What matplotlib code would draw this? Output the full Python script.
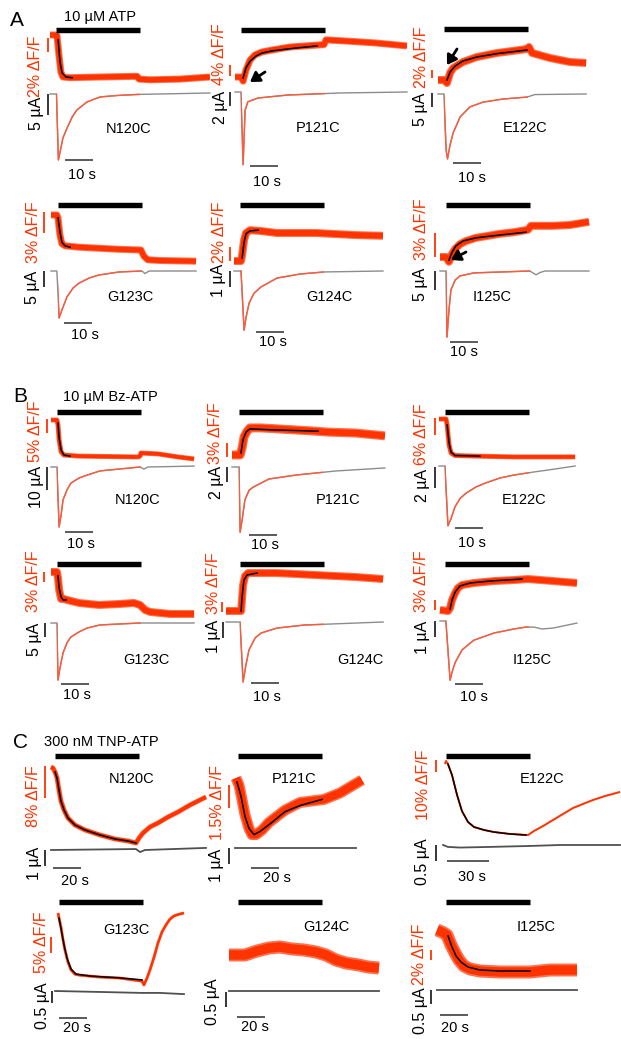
import matplotlib
matplotlib.use("Agg")
import matplotlib.pyplot as plt
from matplotlib.patches import Rectangle

plt.rcParams['font.family'] = ['Liberation Sans', 'DejaVu Sans']

W, H = 621, 1039
RED = '#ff3300'
CUR_RED = '#ff5a3a'
GRAY = '#8c8c8c'

# ======================= DATA (time in s, fluorescence in %dF/F, current in uA) =======================
# ---- A: 10 uM ATP ----
A1_name = "N120C"; A1_drug = [2.1, 32.1]; A1_scale = [2, 5, 10]
A1_F_t = [0, 2.1, 2.5, 3.2, 3.9, 4.6, 7.1, 17.9, 31.1, 31.8, 35.7, 46.4, 57.1]
A1_F_v = [0, 0, -0.1, -2.9, -5.3, -6.0, -6.1, -6.0, -5.9, -6.3, -6.4, -6.3, -6.0]
A1_fit_t = [2.9, 3.6, 4.3, 5.7, 7.9]
A1_fit_v = [-0.7, -3.9, -5.4, -6.0, -6.1]
A1_I_t = [0, 2.3, 3.0, 3.6, 4.6, 6.1, 7.9, 9.6, 13.2, 17.9, 23.9, 31.4, 57.1]
A1_I_v = [0, 0, -15.7, -13.8, -10.5, -8.1, -5.5, -3.8, -1.9, -0.7, -0.36, -0.1, 0.24]

A2_name = "P121C"; A2_drug = [2.1, 32.1]; A2_scale = [4, 2, 10]
A2_F_t = [0, 2.1, 2.9, 3.9, 5.4, 7.1, 9.6, 13.2, 19.6, 29.3, 31.8, 32.5, 39.3, 50.0, 61.4]
A2_F_v = [0, 0, -1.5, 2.5, 6.2, 8.0, 9.1, 9.8, 10.9, 11.6, 11.8, 13.5, 13.1, 12.4, 11.3]
A2_fit_t = [2.9, 3.9, 5.4, 7.5, 9.6, 13.2, 21.4, 29.3]
A2_fit_v = [-0.4, 3.3, 5.8, 7.6, 8.7, 9.5, 10.5, 11.3]
A2_I_t = [0, 2.1, 2.9, 3.6, 4.6, 8.2, 18.9, 37.5, 61.4]
A2_I_v = [0, 0, -10.4, -2.6, -1.4, -0.86, -0.43, -0.14, 0]

A3_name = "E122C"; A3_drug = [2.1, 32.1]; A3_scale = [2, 5, 10]
A3_F_t = [0, 2.1, 3.2, 4.3, 5.4, 8.9, 13.9, 21.1, 31.8, 32.5, 33.6, 40.0, 47.1, 52.9]
A3_F_v = [0, 0, -0.75, 1.75, 3.0, 4.5, 5.75, 6.75, 7.75, 8.25, 6.75, 5.5, 4.5, 4.25]
A3_fit_t = [3.2, 4.3, 6.1, 8.9, 13.9, 21.1, 31.8]
A3_fit_v = [0, 2.0, 3.5, 4.75, 5.75, 6.6, 7.5]
A3_I_t = [0, 2.1, 2.9, 3.4, 4.3, 5.4, 7.9, 11.4, 16.1, 23.2, 31.8, 34.6, 52.9]
A3_I_v = [0, 0, -20.0, -23.2, -18.2, -13.9, -8.2, -4.6, -2.9, -1.8, -1.1, -0.2, 0]

A4_name = "G123C"; A4_drug = [2.5, 32.5]; A4_scale = [3, 5, 10]
A4_F_t = [0, 2.1, 2.5, 3.2, 3.9, 5.0, 10.0, 24.3, 32.1, 33.2, 34.6, 38.9, 51.8]
A4_F_v = [0, 0, -0.4, -2.9, -4.1, -4.4, -4.6, -4.9, -5.0, -5.9, -6.4, -6.5, -6.6]
A4_fit_t = [2.5, 3.2, 3.9, 5.0, 6.8]
A4_fit_v = [-0.4, -2.4, -3.9, -4.4, -4.6]
A4_I_t = [0, 2.1, 2.9, 3.9, 5.7, 7.9, 10.0, 13.6, 17.1, 24.3, 32.5, 33.6, 35.0, 51.8]
A4_I_v = [0, 0, -14.7, -12.2, -8.1, -5.3, -3.8, -2.2, -1.25, -0.3, 0, -0.8, 0, 0]

A5_name = "G124C"; A5_drug = [2.1, 32.1]; A5_scale = [2, 1, 10]
A5_F_t = [0, 2.5, 2.9, 3.6, 4.3, 5.7, 9.3, 15.4, 29.3, 43.6, 53.2]
A5_F_v = [0, 0, 0.86, 3.0, 4.0, 4.4, 4.3, 4.0, 4.0, 3.7, 3.6]
A5_fit_t = [2.9, 3.6, 4.3, 5.7, 8.6]
A5_fit_v = [0.43, 2.7, 3.9, 4.3, 4.4]
A5_I_t = [0, 2.5, 3.6, 4.3, 5.4, 7.1, 9.6, 15.4, 23.6, 32.1, 53.2]
A5_I_v = [0, 0, -3.7, -2.9, -2.0, -1.4, -1.0, -0.44, -0.19, -0.06, 0]

A6_name = "I125C"; A6_drug = [2.1, 32.1]; A6_scale = [3, 5, 10]
A6_F_t = [0, 2.1, 3.2, 4.3, 5.4, 7.1, 9.3, 12.9, 16.4, 21.4, 26.4, 31.4, 32.5, 40.4, 46.4, 53.2]
A6_F_v = [0, 0, -0.6, 0.4, 1.0, 1.6, 2.0, 2.4, 2.6, 2.9, 3.1, 3.4, 3.9, 3.9, 4.0, 4.4]
A6_fit_t = [3.2, 4.3, 5.7, 8.2, 12.9, 21.4, 30.7]
A6_fit_v = [-0.4, 0.6, 1.4, 2.0, 2.4, 2.75, 3.1]
A6_I_t = [0, 2.1, 2.5, 3.2, 3.9, 5.4, 7.1, 12.1, 32.1, 33.2, 34.3, 35.7, 37.5, 53.2]
A6_I_v = [0, 0, -17.4, -10.3, -5.0, -2.4, -1.3, -0.5, 0, -0.5, -1.0, -0.4, 0, 0]

# ---- B: 10 uM Bz-ATP ----
B1_name = "N120C"; B1_drug = [2.1, 32.1]; B1_scale = [5, 10, 10]
B1_F_t = [0, 2.1, 2.5, 2.9, 3.6, 4.6, 10.0, 31.1, 31.8, 32.1, 38.2, 45.4, 51.1]
B1_F_v = [0, 0, -1.8, -7.1, -11.4, -12.5, -12.9, -13.2, -12.9, -11.8, -12.1, -13.2, -13.9]
B1_fit_t = [2.5, 2.9, 3.6, 4.6, 6.8]
B1_fit_v = [-1.1, -6.4, -10.7, -12.5, -12.9]
B1_I_t = [0, 2.1, 2.9, 3.6, 4.3, 5.7, 7.1, 10.0, 12.9, 17.5, 24.3, 31.8, 33.2, 34.6, 51.1]
B1_I_v = [0, 0, -26.1, -20.9, -14.3, -10.0, -7.0, -4.8, -3.5, -1.7, -0.9, 0, -0.9, 0, 0.4]

B2_name = "P121C"; B2_drug = [2.5, 32.5]; B2_scale = [3, 2, 10]
B2_F_t = [0, 2.9, 3.6, 4.3, 5.4, 6.4, 10.4, 16.1, 30.0, 34.3, 44.3, 54.6]
B2_F_v = [0, 0, 1.5, 3.9, 5.1, 5.8, 5.8, 5.6, 5.1, 4.9, 4.7, 4.1]
B2_fit_t = [3.2, 3.9, 5.0, 6.4, 13.6, 30.7]
B2_fit_v = [0.43, 3.2, 4.9, 5.6, 5.4, 5.1]
B2_I_t = [0, 2.5, 2.9, 3.6, 4.6, 6.1, 7.5, 13.2, 22.9, 37.1, 54.6]
B2_I_v = [0, 0, -8.7, -7.1, -4.4, -3.1, -2.7, -1.6, -1.07, -0.53, -0.13]

B3_name = "E122C"; B3_drug = [2.1, 32.1]; B3_scale = [6, 2, 10]
B3_F_t = [0, 2.5, 2.9, 3.6, 4.3, 5.7, 12.5, 26.8, 37.9, 48.6]
B3_F_v = [0, 0, -2.1, -9.2, -12.0, -12.9, -13.1, -13.4, -13.4, -13.4]
B3_fit_t = [2.9, 3.6, 4.3, 5.7, 14.6]
B3_fit_v = [-2.1, -8.5, -11.7, -12.9, -13.1]
B3_I_t = [0, 2.1, 3.2, 4.3, 5.7, 7.5, 9.6, 13.2, 16.8, 21.8, 26.8, 33.9, 41.4, 48.6]
B3_I_v = [0, 0, -5.7, -5.0, -3.9, -3.1, -2.6, -2.0, -1.6, -1.14, -0.86, -0.57, -0.29, 0]

B4_name = "G123C"; B4_drug = [2.1, 32.1]; B4_scale = [3, 5, 10]
B4_F_t = [0, 2.1, 2.5, 2.9, 3.6, 4.6, 5.7, 10.0, 17.1, 24.6, 29.6, 31.8, 33.6, 35.4, 42.5, 51.1]
B4_F_v = [0, 0, -1.8, -5.4, -8.1, -8.1, -8.4, -9.3, -9.9, -9.6, -9.3, -9.9, -11.4, -12.0, -12.6, -12.6]
B4_fit_t = [2.5, 2.9, 3.6, 4.3, 5.4]
B4_fit_v = [-1.2, -4.8, -7.5, -8.4, -8.4]
B4_I_t = [0, 2.1, 2.5, 3.2, 4.3, 5.7, 7.1, 10.0, 12.9, 17.5, 24.3, 31.8, 51.1]
B4_I_v = [0, 0, -20.4, -16.1, -10.7, -7.1, -5.0, -3.2, -1.8, -0.7, -0.36, 0, 0]

B5_name = "G124C"; B5_drug = [5.0, 35.0]; B5_scale = [3, 1, 10]
B5_F_t = [0, 5.4, 5.7, 6.1, 6.8, 7.9, 18.2, 32.1, 46.4, 56.1]
B5_F_v = [0, 0, 3.3, 7.8, 10.5, 11.4, 11.4, 10.8, 10.2, 9.6]
B5_fit_t = [5.4, 5.7, 6.4, 7.5, 11.1]
B5_fit_v = [0, 3.9, 9.3, 10.8, 11.4]
B5_I_t = [0, 5.0, 6.1, 7.1, 8.2, 10.4, 12.5, 18.2, 27.9, 56.1]
B5_I_v = [0, 0, -3.75, -2.7, -1.75, -1.0, -0.69, -0.38, -0.19, 0]

B6_name = "I125C"; B6_drug = [1.8, 31.8]; B6_scale = [3, 1, 10]
B6_F_t = [0, 2.9, 3.6, 4.3, 5.4, 6.4, 7.9, 12.1, 19.3, 26.4, 31.4, 40.4, 48.9]
B6_F_v = [0, -0.3, 0.6, 3.0, 5.1, 6.6, 7.5, 8.1, 8.7, 9.0, 9.3, 8.7, 8.1]
B6_fit_t = [3.6, 4.3, 5.4, 7.1, 10.7, 17.9, 29.3]
B6_fit_v = [0.3, 3.0, 5.4, 7.2, 8.1, 8.7, 9.3]
B6_I_t = [0, 2.1, 3.6, 4.3, 5.4, 7.9, 12.1, 19.3, 26.4, 30.7, 33.6, 36.4, 40.4, 48.9]
B6_I_v = [0, 0, -3.7, -3.2, -2.6, -1.8, -1.2, -0.75, -0.5, -0.38, -0.38, -0.5, -0.44, -0.13]

# ---- C: 300 nM TNP-ATP ----
C1_name = "N120C"; C1_drug = [2.9, 62.9]; C1_scale = [8, 1, 20]
C1_F_t = [0, 1.4, 2.9, 4.3, 5.7, 7.1, 9.3, 12.1, 17.1, 24.3, 35.0, 45.7, 55.0, 60.7, 62.9, 65.7, 70.7, 76.4, 83.6, 90.7, 99.3, 110.7]
C1_F_v = [0, -0.25, -1.25, -2.75, -5.75, -8.5, -10.75, -12.75, -14.5, -15.75, -17.0, -18.0, -18.5, -19.0, -17.75, -16.5, -15.0, -14.0, -12.5, -11.25, -9.5, -7.5]
C1_fit_t = [2.9, 4.3, 5.7, 7.1, 9.3, 12.1, 17.1, 24.3, 35.0, 45.7, 55.0, 60.7]
C1_fit_v = [-1.25, -2.75, -5.75, -8.5, -10.75, -12.75, -14.5, -15.75, -17.0, -18.0, -18.5, -19.0]
C1_I_t = [0, 60.7, 63.6, 67.1, 110.7]
C1_I_v = [0, 0.06, -0.13, 0, 0.13]

C2_name = "P121C"; C2_drug = [1.4, 61.4]; C2_scale = [1.5, 1, 20]
C2_F_t = [0, 2.1, 3.6, 6.4, 9.3, 11.4, 14.3, 18.6, 23.6, 29.3, 35.0, 45.7, 62.9, 74.3, 81.4, 90.0]
C2_F_v = [0, -0.46, -1.1, -2.4, -3.3, -3.7, -3.7, -3.4, -2.9, -2.5, -2.1, -1.6, -1.4, -0.98, -0.59, -0.13]
C2_fit_t = [0.7, 3.6, 6.4, 9.3, 12.9, 17.1, 24.3, 35.0, 45.7, 61.4]
C2_fit_v = [-0.26, -1.2, -2.5, -3.3, -3.7, -3.5, -3.0, -2.2, -1.8, -1.4]
C2_I_t = [-0.7, 85.7]
C2_I_v = [0, 0]

C3_name = "E122C"; C3_drug = [0.7, 60.7]; C3_scale = [10, 0.5, 30]
C3_F_t = [0, 0.7, 2.1, 5.0, 8.6, 12.1, 16.4, 20.7, 27.9, 35.0, 46.4, 59.3, 63.6, 70.0, 77.1, 84.3, 91.4, 98.6, 105.7, 114.3, 125.0]
C3_F_v = [0, 2.5, 0, -9.2, -25.8, -39.2, -48.3, -52.5, -55.0, -56.7, -58.3, -59.2, -55.8, -51.7, -46.7, -41.7, -36.7, -33.3, -30.0, -26.7, -23.3]
C3_fit_t = [2.1, 5.0, 8.6, 12.1, 16.4, 20.7, 27.9, 35.0, 46.4, 57.9]
C3_fit_v = [0, -9.2, -25.8, -39.2, -48.3, -52.5, -55.0, -56.7, -58.3, -59.2]
C3_I_t = [-1.4, 2.1, 10.7, 32.1, 60.7, 82.1, 125.0]
C3_I_v = [0, -0.06, -0.08, -0.06, -0.03, 0, 0]

C4_name = "G123C"; C4_drug = [0.7, 60.7]; C4_scale = [5, 0.5, 20]
C4_F_t = [0, 2.1, 3.6, 5.0, 7.1, 9.3, 12.1, 15.0, 29.3, 43.6, 60.0, 61.4, 63.6, 65.7, 68.6, 71.4, 74.3, 77.1, 80.0, 82.9, 87.1, 90.0]
C4_F_v = [0, -4.4, -8.4, -11.6, -15.3, -17.8, -19.1, -19.4, -20.0, -20.3, -21.3, -22.5, -20.3, -17.8, -13.8, -9.4, -5.9, -3.75, -1.9, -0.9, -0.3, 0]
C4_fit_t = [0.7, 2.1, 4.3, 6.4, 9.3, 12.9, 22.9, 44.3, 60.0]
C4_fit_v = [-1.6, -4.7, -10.0, -14.1, -17.5, -19.1, -19.7, -20.3, -20.9]
C4_I_t = [-2.1, 30.0, 60.0, 72.9, 90.0]
C4_I_v = [0, -0.04, -0.08, -0.08, -0.13]

C5_name = "G124C"; C5_drug = [6.4, 66.4]; C5_scale = [None, 0.5, 20]
C5_F_t = [0, 11.4, 20.0, 28.6, 36.4, 45.0, 53.6, 62.1, 69.3, 76.4, 83.6, 92.7, 99.3, 107.1]
C5_F_v = [0, 0, 0.8, 1.4, 1.6, 1.2, 1.0, 0.6, 0, -1.0, -1.6, -2.0, -2.4, -2.6]
C5_fit_t = []
C5_fit_v = []
C5_I_t = [0, 107.1]
C5_I_v = [0, 0]

C6_name = "I125C"; C6_drug = [6.4, 66.4]; C6_scale = [2, 0.5, 20]
C6_F_t = [0, 3.6, 7.1, 10.0, 12.9, 15.7, 19.3, 23.6, 30.7, 45.0, 66.4, 80.7, 100.0]
C6_F_v = [0, -0.4, -1.0, -3.0, -4.6, -6.0, -7.2, -7.8, -8.2, -8.4, -8.4, -8.0, -8.0]
C6_fit_t = [7.9, 10.7, 13.6, 17.1, 22.1, 30.7, 45.0, 66.4]
C6_fit_v = [-1.2, -3.4, -5.2, -6.4, -7.4, -8.0, -8.2, -8.2]
C6_I_t = [0, 100.0]
C6_I_v = [0, 0]

SECTION_LETTERS = ["A", "B", "C"]
SECTION_DRUGS = ["10 µM ATP", "10 µM Bz-ATP", "300 nM TNP-ATP"]

# ======================= LAYOUT (pixel placement of each panel) =======================
def P(name, drug, scale, Ft, Fv, fit_t, fit_v, It, Iv):
    return dict(name=name, drug=drug, scale=scale, Ft=Ft, Fv=Fv, fit_t=fit_t, fit_v=fit_v, It=It, Iv=Iv)

panels = [
    (P(A1_name, A1_drug, A1_scale, A1_F_t, A1_F_v, A1_fit_t, A1_fit_v, A1_I_t, A1_I_v),
     dict(xs=50, pps=2.8, yF0=35, ppF=7, yI0=94, ppI=4.2, bar_y=29.5, Fsb=(48, 52), Isb=(48, 94), tb=(65, 160),
          band=7, Flab=(36, 66), Ilab=(36, 113), tlab=(82, 175), nlab=(129, 129), redI=True)),
    (P(A2_name, A2_drug, A2_scale, A2_F_t, A2_F_v, A2_fit_t, A2_fit_v, A2_I_t, A2_I_v),
     dict(xs=235, pps=2.8, yF0=77, ppF=2.75, yI0=92, ppI=7, bar_y=29.5, Fsb=(230, 76), Isb=(230, 92), tb=(250, 166),
          band=7, Flab=(220, 54), Ilab=(220, 107), tlab=(267, 182), nlab=(318, 128), redI=True,
          arrow=((265, 72), (250, 82)))),
    (P(A3_name, A3_drug, A3_scale, A3_F_t, A3_F_v, A3_fit_t, A3_fit_v, A3_I_t, A3_I_v),
     dict(xs=438, pps=2.8, yF0=80, ppF=4, yI0=94, ppI=2.8, bar_y=29.5, Fsb=(432, 78), Isb=(432, 93), tb=(453, 163),
          band=8, Flab=(421, 57), Ilab=(421, 109), tlab=(472, 178), nlab=(525, 128), redI=True,
          arrow=((457, 49), (447, 65)))),
    (P(A4_name, A4_drug, A4_scale, A4_F_t, A4_F_v, A4_fit_t, A4_fit_v, A4_I_t, A4_I_v),
     dict(xs=51, pps=2.8, yF0=215, ppF=7, yI0=271, ppI=3.2, bar_y=204.5, Fsb=(44, 233), Isb=(44, 271), tb=(64, 323),
          band=7, Flab=(33, 232), Ilab=(33, 287), tlab=(85, 335), nlab=(130, 297), redI=True)),
    (P(A5_name, A5_drug, A5_scale, A5_F_t, A5_F_v, A5_fit_t, A5_fit_v, A5_I_t, A5_I_v),
     dict(xs=234, pps=2.8, yF0=261, ppF=7, yI0=271, ppI=16, bar_y=204.5, Fsb=(230, 261), Isb=(230, 271), tb=(256, 332),
          band=8, Flab=(220, 232), Ilab=(219, 280), tlab=(273, 342), nlab=(329, 297), redI=True)),
    (P(A6_name, A6_drug, A6_scale, A6_F_t, A6_F_v, A6_fit_t, A6_fit_v, A6_I_t, A6_I_v),
     dict(xs=440, pps=2.8, yF0=257, ppF=8, yI0=271, ppI=3.8, bar_y=204.5, Fsb=(435, 257), Isb=(435, 271), tb=(450, 342),
          band=8, Flab=(421, 229), Ilab=(421, 284), tlab=(464, 352), nlab=(492, 297), redI=True,
          arrow=((466, 252), (451, 260)))),
    (P(B1_name, B1_drug, B1_scale, B1_F_t, B1_F_v, B1_fit_t, B1_fit_v, B1_I_t, B1_I_v),
     dict(xs=51, pps=2.8, yF0=420, ppF=2.8, yI0=467, ppI=2.3, bar_y=411.5, Fsb=(47, 433), Isb=(47, 467), tb=(65, 532),
          band=5, Flab=(36, 431), Ilab=(36, 487), tlab=(81, 544), nlab=(138, 500), redI=True)),
    (P(B2_name, B2_drug, B2_scale, B2_F_t, B2_F_v, B2_fit_t, B2_fit_v, B2_I_t, B2_I_v),
     dict(xs=232, pps=2.8, yF0=455, ppF=4.67, yI0=467, ppI=7.5, bar_y=411.5, Fsb=(227, 457), Isb=(227, 467), tb=(249, 535),
          band=9, Flab=(216, 433), Ilab=(216, 482), tlab=(265, 545), nlab=(338, 500), redI=True)),
    (P(B3_name, B3_drug, B3_scale, B3_F_t, B3_F_v, B3_fit_t, B3_fit_v, B3_I_t, B3_I_v),
     dict(xs=439, pps=2.8, yF0=419, ppF=2.83, yI0=466, ppI=10.5, bar_y=411.5, Fsb=(435, 435), Isb=(435, 467), tb=(455, 528),
          band=5, Flab=(422, 434), Ilab=(422, 485), tlab=(472, 543), nlab=(524, 500), redI=True)),
    (P(B4_name, B4_drug, B4_scale, B4_F_t, B4_F_v, B4_fit_t, B4_fit_v, B4_I_t, B4_I_v),
     dict(xs=51, pps=2.8, yF0=572, ppF=3.33, yI0=623, ppI=2.8, bar_y=563.5, Fsb=(44, 582), Isb=(45, 623), tb=(61, 684),
          band=8, Flab=(34, 581), Ilab=(34, 639), tlab=(77, 695), nlab=(146, 660), redI=True)),
    (P(B5_name, B5_drug, B5_scale, B5_F_t, B5_F_v, B5_fit_t, B5_fit_v, B5_I_t, B5_I_v),
     dict(xs=226, pps=2.8, yF0=611, ppF=3.33, yI0=622, ppI=16, bar_y=563.5, Fsb=(222, 612), Isb=(223, 622), tb=(251, 683),
          band=8, Flab=(214, 583), Ilab=(214, 636), tlab=(267, 697), nlab=(360, 660), redI=True)),
    (P(B6_name, B6_drug, B6_scale, B6_F_t, B6_F_v, B6_fit_t, B6_fit_v, B6_I_t, B6_I_v),
     dict(xs=440, pps=2.8, yF0=610, ppF=3.33, yI0=621, ppI=16, bar_y=563.5, Fsb=(435, 610), Isb=(435, 621), tb=(455, 684),
          band=8, Flab=(422, 581), Ilab=(422, 637), tlab=(474, 697), nlab=(532, 660), redI=True)),
    (P(C1_name, C1_drug, C1_scale, C1_F_t, C1_F_v, C1_fit_t, C1_fit_v, C1_I_t, C1_I_v),
     dict(xs=51, pps=1.4, yF0=767, ppF=4, yI0=850, ppI=16, bar_y=755.5, Fsb=(45, 798), Isb=(45, 850), tb=(53, 868),
          band=5, Flab=(34, 796), Ilab=(35, 863), tlab=(75, 881), nlab=(132, 779), redI=False)),
    (P(C2_name, C2_drug, C2_scale, C2_F_t, C2_F_v, C2_fit_t, C2_fit_v, C2_I_t, C2_I_v),
     dict(xs=236, pps=1.4, yF0=778, ppF=15.3, yI0=848, ppI=16, bar_y=755.5, Fsb=(229, 808), Isb=(229, 848), tb=(251, 868),
          band=11, Flab=(217, 803), Ilab=(217, 865), tlab=(277, 878), nlab=(294, 779), redI=False)),
    (P(C3_name, C3_drug, C3_scale, C3_F_t, C3_F_v, C3_fit_t, C3_fit_v, C3_I_t, C3_I_v),
     dict(xs=445, pps=1.4, yF0=764, ppF=1.2, yI0=845, ppI=32, bar_y=755.5, Fsb=(436, 772), Isb=(436, 845), tb=(447, 861),
          band=2, Flab=(423, 785), Ilab=(422, 862), tlab=(472, 877), nlab=(542, 779), redI=False)),
    (P(C4_name, C4_drug, C4_scale, C4_F_t, C4_F_v, C4_fit_t, C4_fit_v, C4_I_t, C4_I_v),
     dict(xs=58, pps=1.4, yF0=913, ppF=3.2, yI0=991, ppI=24, bar_y=901.5, Fsb=(51, 953), Isb=(52, 991), tb=(59, 1018),
          band=3, Flab=(42, 942), Ilab=(42, 1006), tlab=(77, 1028), nlab=(126, 930), redI=False)),
    (P(C5_name, C5_drug, C5_scale, C5_F_t, C5_F_v, C5_fit_t, C5_fit_v, C5_I_t, C5_I_v),
     dict(xs=229, pps=1.4, yF0=955, ppF=5, yI0=991, ppI=30, bar_y=901.5, Fsb=None, Isb=(226, 992), tb=(237, 1017),
          band=13, Flab=None, Ilab=(212, 1002), tlab=(255, 1027), nlab=(326, 927), redI=False)),
    (P(C6_name, C6_drug, C6_scale, C6_F_t, C6_F_v, C6_fit_t, C6_fit_v, C6_I_t, C6_I_v),
     dict(xs=437, pps=1.4, yF0=930, ppF=5, yI0=990, ppI=28, bar_y=901.5, Fsb=(431, 960), Isb=(431, 990), tb=(440, 1015),
          band=13, Flab=(420, 954), Ilab=(420, 1011), tlab=(455, 1028), nlab=(536, 927), redI=False)),
]

LETTER_POS = [(17, 20), (20, 397), (20, 743)]
DRUG_POS = [(100, 17), (110, 397), (101, 742)]

FS = 10.5
FS_ROT = 11.5

fig = plt.figure(figsize=(W / 100, H / 100), dpi=100)


def data_axes(xs, pps, y0, ppy):
    ax = fig.add_axes([0, 0, 1, 1])
    ax.set_xlim(-xs / pps, (W - xs) / pps)
    ax.set_ylim((y0 - H) / ppy, y0 / ppy)
    ax.set_axis_off()
    ax.patch.set_alpha(0)
    return ax


def ftxt(x, y, s, **kw):
    fig.text(x / W, 1 - y / H, s, ha='center', va='center', **kw)


def fmt(v):
    return f"{v:g}"


def draw(p, L):
    xs, pps = L['xs'], L['pps']
    tx = lambda px: (px - xs) / pps
    fv = lambda py: (L['yF0'] - py) / L['ppF']
    iv = lambda py: (L['yI0'] - py) / L['ppI']
    axF = data_axes(xs, pps, L['yF0'], L['ppF'])
    axI = data_axes(xs, pps, L['yI0'], L['ppI'])

    band = L['band']
    # fluorescence: noisy band (soft edge + solid core)
    axF.plot(p['Ft'], p['Fv'], color=RED, lw=band / 1.39, alpha=0.7,
             solid_joinstyle='round', solid_capstyle='butt')
    axF.plot(p['Ft'], p['Fv'], color=RED, lw=max(band * 0.72, 1.6) / 1.39,
             solid_joinstyle='round', solid_capstyle='butt')
    if p['fit_t']:
        axF.plot(p['fit_t'], p['fit_v'], color='k', lw=1.1)

    # drug application bar
    yb = fv(L['bar_y'])
    axF.plot(p['drug'], [yb, yb], color='k', lw=3.9, solid_capstyle='butt')

    # current
    if L['redI']:
        axI.plot(p['It'], p['Iv'], color=GRAY, lw=1.0)
        ln, = axI.plot(p['It'], p['Iv'], color=CUR_RED, lw=1.0)
        y0, y1 = axI.get_ylim()
        clip = Rectangle((p['drug'][0], y0), p['drug'][1] - p['drug'][0], y1 - y0,
                         transform=axI.transData)
        ln.set_clip_path(clip)
    else:
        axI.plot(p['It'], p['Iv'], color='#505050', lw=1.3)

    sF, sI, sT = p['scale']
    if L['Fsb'] is not None and sF is not None:
        x, yb_ = L['Fsb']
        v0 = fv(yb_)
        axF.plot([tx(x)] * 2, [v0, v0 + sF], color=RED, lw=1.3, solid_capstyle='butt')
        ftxt(*L['Flab'], f"{fmt(sF)}% ΔF/F", color=RED, rotation=90, fontsize=FS_ROT)
    x, yt = L['Isb']
    v0 = iv(yt)
    axI.plot([tx(x)] * 2, [v0, v0 - sI], color='k', lw=1.1, solid_capstyle='butt')
    ftxt(*L['Ilab'], f"{fmt(sI)} µA", color='k', rotation=90, fontsize=FS_ROT)
    x, y = L['tb']
    axI.plot([tx(x), tx(x) + sT], [iv(y)] * 2, color='#4d4d4d', lw=1.3, solid_capstyle='butt')
    ftxt(*L['tlab'], f"{fmt(sT)} s", fontsize=FS)
    ftxt(*L['nlab'], p['name'], fontsize=FS)

    if L.get('arrow'):
        (ax_, ay_), (hx, hy) = L['arrow']
        axF.annotate('', xy=(tx(hx), fv(hy)), xytext=(tx(ax_), fv(ay_)),
                     arrowprops=dict(arrowstyle='-|>,head_length=0.55,head_width=0.35',
                                     color='k', lw=2.0, shrinkA=0, shrinkB=0))


for p, L in panels:
    draw(p, L)

for letter, (x, y) in zip(SECTION_LETTERS, LETTER_POS):
    ftxt(x, y, letter, fontsize=15)
for drug, (x, y) in zip(SECTION_DRUGS, DRUG_POS):
    ftxt(x, y, drug, fontsize=FS)

fig.savefig("out.png", dpi=100)
